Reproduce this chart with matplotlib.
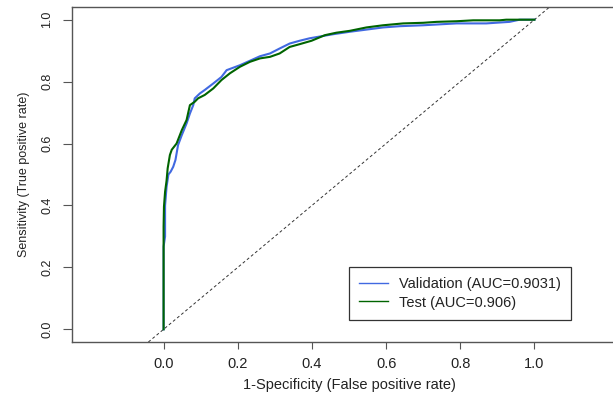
import matplotlib
matplotlib.use("Agg")
import matplotlib.pyplot as plt

# ROC data (false positive rate, true positive rate)
fpr_val = [0, 0, 0.004, 0.004, 0.008, 0.013, 0.019, 0.026, 0.032, 0.039, 0.049, 0.062,
           0.071, 0.080, 0.084, 0.098, 0.111, 0.134, 0.156, 0.17, 0.206, 0.26, 0.287,
           0.313, 0.34, 0.367, 0.394, 0.457, 0.502, 0.592, 0.637, 0.70, 0.79, 0.87,
           0.933, 0.96, 1.0]
tpr_val = [0, 0.267, 0.30, 0.40, 0.46, 0.50, 0.509, 0.525, 0.547, 0.595, 0.627, 0.665,
           0.697, 0.724, 0.746, 0.762, 0.773, 0.794, 0.815, 0.837, 0.853, 0.882, 0.891,
           0.907, 0.923, 0.932, 0.94, 0.953, 0.961, 0.975, 0.979, 0.982, 0.988, 0.988,
           0.993, 1.0, 1.0]

fpr_test = [0, 0, 0.001, 0.004, 0.008, 0.011, 0.017, 0.022, 0.035, 0.049, 0.062, 0.071,
            0.084, 0.093, 0.111, 0.134, 0.156, 0.179, 0.206, 0.233, 0.26, 0.287, 0.313,
            0.34, 0.367, 0.399, 0.435, 0.466, 0.502, 0.547, 0.592, 0.646, 0.70, 0.736,
            0.79, 0.835, 0.906, 0.924, 1.0]
tpr_test = [0, 0.331, 0.396, 0.444, 0.48, 0.52, 0.563, 0.58, 0.60, 0.643, 0.676, 0.724,
            0.735, 0.746, 0.757, 0.778, 0.805, 0.827, 0.848, 0.864, 0.875, 0.88, 0.891,
            0.912, 0.921, 0.932, 0.95, 0.958, 0.964, 0.975, 0.982, 0.988, 0.99, 0.993,
            0.995, 0.998, 0.998, 1.0, 1.0]

labels = ["Validation (AUC=0.9031)", "Test (AUC=0.906)"]
ticks = [0.0, 0.2, 0.4, 0.6, 0.8, 1.0]
tick_labels = ["0.0", "0.2", "0.4", "0.6", "0.8", "1.0"]

plt.rcParams["font.family"] = ["Liberation Sans", "DejaVu Sans"]

fig = plt.figure(figsize=(6.13, 3.96), dpi=100)
ax = fig.add_axes([72 / 613, 1 - 342 / 396, (626 - 72) / 613, (342 - 7) / 396])

ax.axline((0, 0), (1, 1), color="#333333", lw=0.7, linestyle=(0, (3, 2.5)))
ax.plot(fpr_val, tpr_val, color="#4169E1", lw=1.5, label=labels[0])
ax.plot(fpr_test, tpr_test, color="#006400", lw=1.5, label=labels[1])

ax.set_xlim(-0.247, 1.247)
ax.set_ylim(-0.041, 1.041)
ax.set_xticks(ticks)
ax.set_xticklabels(tick_labels)
ax.set_yticks(ticks)
ax.set_yticklabels(tick_labels, rotation=90, va="center")

for s in ax.spines.values():
    s.set_color("#555555")
    s.set_linewidth(1.0)
ax.tick_params(axis="x", length=5, width=0.8, color="#555555", pad=6, labelsize=10.5, labelcolor="#222222")
ax.tick_params(axis="y", length=6.5, width=0.8, color="#555555", pad=7, labelsize=9, labelcolor="#222222")

ax.set_xlabel("1-Specificity (False positive rate)", fontsize=10.5, color="#222222", labelpad=5)
ax.set_ylabel("Sensitivity (True positive rate)", fontsize=9, color="#222222", labelpad=8)

leg = ax.legend(loc="upper left", bbox_to_anchor=(349 / 613, 1 - 267 / 396),
                bbox_transform=fig.transFigure, frameon=True, fancybox=False,
                edgecolor="black", fontsize=10.5, handlelength=1.95, handletextpad=0.75,
                borderpad=0.7, labelspacing=0.3, borderaxespad=0)
leg.get_frame().set_linewidth(0.9)
for line in leg.get_lines():
    line.set_linewidth(1.0)
for t in leg.get_texts():
    t.set_color("#222222")

fig.savefig("out.png", dpi=100)
